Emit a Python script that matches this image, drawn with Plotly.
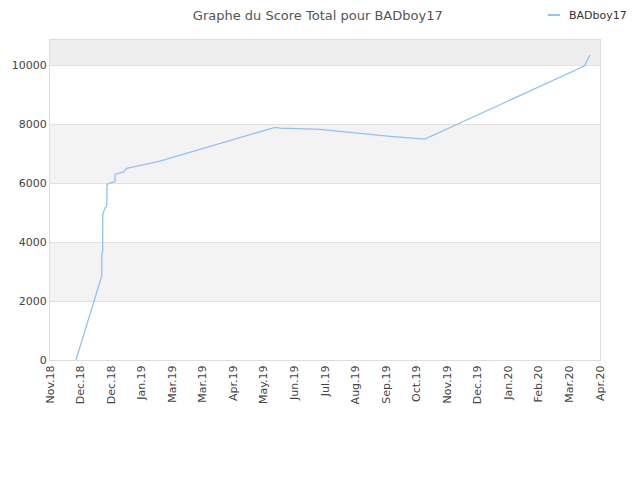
import plotly.graph_objects as go

# days since the first tick (one tick every 30 days)
days = [25.5, 50.8, 50.9, 51.7, 51.8, 54.0, 55.7, 56.0, 59.6, 63.8, 63.9,
        72.0, 75.3, 108.0, 221.0, 226.0, 265.0, 334.0, 368.0, 524.6, 530.2]
scores = [0, 2850, 3630, 3670, 4920, 5150, 5220, 5950, 6010, 6050, 6300,
          6380, 6500, 6745, 7890, 7860, 7820, 7580, 7490, 9966, 10340]

tick_days = list(range(0, 541, 30))
tick_labels = ["Nov.18", "Dec.18", "Dec.18", "Jan.19", "Mar.19", "Mar.19", "Apr.19",
               "May.19", "Jun.19", "Jul.19", "Aug.19", "Sep.19", "Oct.19", "Nov.19",
               "Dec.19", "Jan.20", "Feb.20", "Mar.20", "Apr.20"]
y_ticks = [0, 2000, 4000, 6000, 8000, 10000]
y_labels = ["0", "2000", "4000", "6000", "8000", "10000"]

player = "BADboy17"
line_color = "#90c2f2"
y_top = 10850

fig = go.Figure()
fig.add_trace(go.Scatter(
    x=days, y=scores, mode="lines", name=player,
    line={"color": line_color, "width": 1.3},
    showlegend=False,
))

shapes = []
for lo, hi, col in [(2000, 4000, "#f3f3f3"), (6000, 8000, "#f3f3f3"), (10000, y_top, "#eeeeee")]:
    shapes.append({"type": "rect", "xref": "paper", "yref": "y", "x0": 0, "x1": 1,
                   "y0": lo, "y1": hi, "fillcolor": col, "line": {"width": 0}, "layer": "below"})
# legend sample
shapes.append({"type": "line", "xref": "paper", "yref": "paper", "x0": 0.905, "x1": 0.927,
               "y0": 1.078, "y1": 1.078, "line": {"color": line_color, "width": 2}})

fig.update_layout(
    width=640, height=480,
    paper_bgcolor="white", plot_bgcolor="white",
    font={"family": "DejaVu Sans", "size": 11, "color": "#444444"},
    title={"text": f"Graphe du Score Total pour {player}", "x": 0.484, "xanchor": "center",
           "y": 0.984, "yanchor": "middle", "font": {"size": 13, "color": "#555555"}},
    margin={"l": 42, "r": 48, "t": 32, "b": 128, "autoexpand": False},
    shapes=shapes,
    annotations=[{"text": player, "xref": "paper", "yref": "paper", "x": 0.94, "y": 1.078,
                  "xanchor": "left", "yanchor": "middle", "showarrow": False,
                  "font": {"size": 11, "color": "#333333"}}],
)
fig.update_xaxes(
    range=[0, 540], tickvals=tick_days, ticktext=tick_labels, tickangle=-90,
    showgrid=False, zeroline=False, showline=True, linecolor="#dddddd", mirror=True,
    ticks="", tickfont={"size": 11},
)
fig.update_yaxes(
    range=[0, y_top], tickvals=y_ticks, ticktext=y_labels, showgrid=True, gridcolor="#e0e0e0",
    zeroline=False, showline=True, linecolor="#dddddd", mirror=True, ticks="",
    tickfont={"size": 11},
)

fig.write_html("out.html")
